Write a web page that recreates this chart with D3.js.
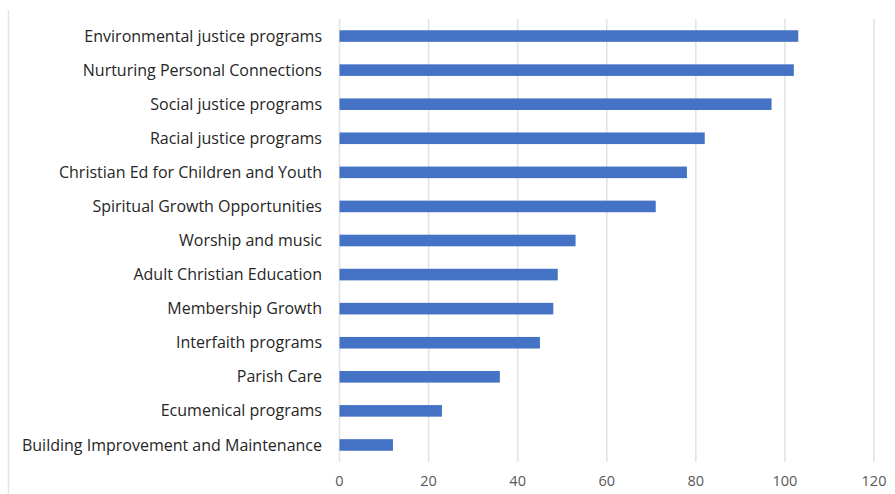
<!DOCTYPE html>
<html>
<head>
<meta charset="utf-8">
<script src="https://cdn.jsdelivr.net/npm/d3@7"></script>
<style>
  body { margin: 0; background: #fff; }
  svg text { font-family: "Open Sans", sans-serif; }
</style>
</head>
<body>
<div id="chart"></div>
<script>
// Categories, top to bottom
const categories = [
    "Environmental justice programs",
    "Nurturing Personal Connections",
    "Social justice programs",
    "Racial justice programs",
    "Christian Ed for Children and Youth",
    "Spiritual Growth Opportunities",
    "Worship and music",
    "Adult Christian Education",
    "Membership Growth",
    "Interfaith programs",
    "Parish Care",
    "Ecumenical programs",
    "Building Improvement and Maintenance"
];
const values = [103, 102, 97, 82, 78, 71, 53, 49, 48, 45, 36, 23, 12];
const ticks = [0, 20, 40, 60, 80, 100, 120];

const data = categories.map((c, i) => ({ name: c, value: values[i] }));

const width = 895, height = 494;

const svg = d3.select("#chart").append("svg")
    .attr("width", width)
    .attr("height", height);

// faint left frame line
svg.append("line")
    .attr("x1", 8.5).attr("x2", 8.5)
    .attr("y1", 10).attr("y2", height)
    .attr("stroke", "#e4e4e4")
    .attr("stroke-width", 1.5);

const x = d3.scaleLinear()
    .domain([0, 120])
    .range([339.5, 874]);

const y = d3.scaleBand()
    .domain(categories)
    .range([19, 462])
    .paddingInner(0.66)
    .paddingOuter(0.33);

// gridlines
svg.append("g")
    .selectAll("line")
    .data(ticks)
    .enter().append("line")
    .attr("x1", d => x(d)).attr("x2", d => x(d))
    .attr("y1", 19).attr("y2", 462)
    .attr("stroke", "#e2e2e2")
    .attr("stroke-width", 1.5);

// x tick labels
svg.append("g")
    .selectAll("text")
    .data(ticks)
    .enter().append("text")
    .attr("x", d => x(d))
    .attr("y", 486)
    .attr("text-anchor", "middle")
    .style("font-size", "14.5px")
    .attr("fill", "#595959")
    .text(d => d);

// bars
svg.selectAll(".bar")
    .data(data)
    .enter().append("rect")
    .attr("class", "bar")
    .attr("x", x(0))
    .attr("y", d => y(d.name))
    .attr("width", d => x(d.value) - x(0))
    .attr("height", y.bandwidth())
    .attr("fill", "#4472c4");

// category labels
svg.append("g")
    .selectAll("text")
    .data(categories)
    .enter().append("text")
    .attr("x", 322)
    .attr("y", d => y(d) + y.bandwidth() / 2)
    .attr("dy", "0.35em")
    .attr("text-anchor", "end")
    .style("font-size", "16px")
    .attr("fill", "#262626")
    .text(d => d);
</script>
</body>
</html>
